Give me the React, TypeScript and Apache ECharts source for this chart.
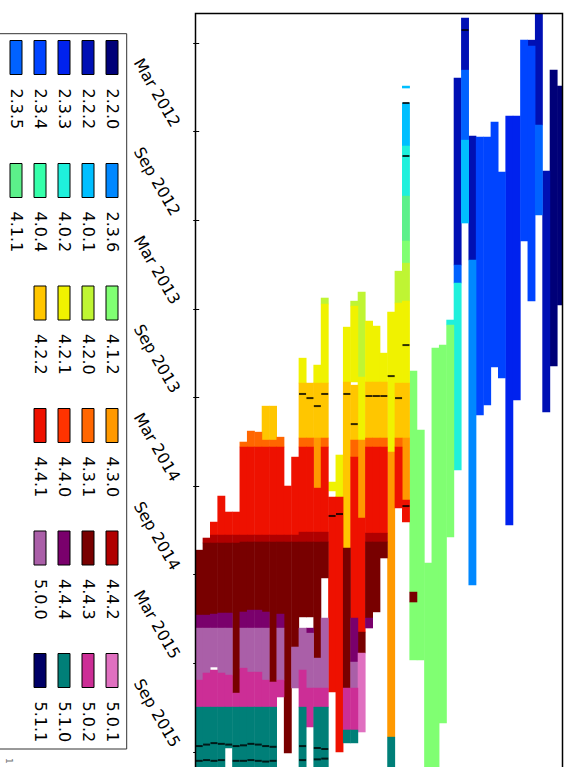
import React, { useEffect, useRef } from "react";
import * as echarts from "echarts";

// ---------- data ----------
const VERSIONS = [
  "2.2.0", "2.2.2", "2.3.3", "2.3.4", "2.3.5", "2.3.6", "4.0.1", "4.0.2", "4.0.4",
  "4.1.1", "4.1.2", "4.2.0", "4.2.1", "4.2.2", "4.3.0", "4.3.1", "4.4.0", "4.4.1",
  "4.4.2", "4.4.3", "4.4.4", "5.0.0", "5.0.1", "5.0.2", "5.1.0", "5.1.1",
];
const COLORS = [
  "#000078", "#0010b4", "#0022ee", "#0044ff", "#0062ff", "#0088ff", "#00bfff", "#1ff0dc", "#36ffaa",
  "#5cf08a", "#80ff72", "#bff533", "#f0f200", "#ffc600", "#ff9900", "#ff6600", "#ff3300", "#ee1100",
  "#b00000", "#780000", "#7a006c", "#aa5fa8", "#e070c0", "#cc2e96", "#007f78", "#000066",
];
const LEGEND_COLUMNS = [
  ["2.2.0", "2.2.2", "2.3.3", "2.3.4", "2.3.5"],
  ["2.3.6", "4.0.1", "4.0.2", "4.0.4", "4.1.1"],
  ["4.1.2", "4.2.0", "4.2.1", "4.2.2"],
  ["4.3.0", "4.3.1", "4.4.0", "4.4.1"],
  ["4.4.2", "4.4.3", "4.4.4", "5.0.0"],
  ["5.0.1", "5.0.2", "5.1.0", "5.1.1"],
];
// time unit: months since Jan 2011 (8 = Sep 2011)
const MONTHS = ["Jan", "Feb", "Mar", "Apr", "May", "Jun", "Jul", "Aug", "Sep", "Oct", "Nov", "Dec"];
const TICK_VALUES = [8, 14, 20, 26, 32, 38, 44, 50, 56];
const LABEL_VALUES = [14, 20, 26, 32, 38, 44, 50, 56];
const T_MIN = 6;
const T_MAX = 58.5;
const END = 58.5;
const DEVICE_MIN = -0.5;
const DEVICE_MAX = 49.2;

// per device (index 0..49): [start, end, version]
const SEGMENTS: [number, number, string][][] = [
  [[42.33, 46.73, "4.4.3"], [46.73, 47.61, "4.4.4"], [47.61, 51.13, "5.0.0"], [51.13, 52.96, "5.0.2"], [52.96, END, "5.1.0"]],
  [[41.51, 41.85, "4.4.2"], [41.85, 46.73, "4.4.3"], [46.73, 47.61, "4.4.4"], [47.61, 50.65, "5.0.0"], [50.65, 52.96, "5.0.2"], [52.96, END, "5.1.0"]],
  [[40.43, 41.31, "4.4.1"], [41.31, 41.85, "4.4.2"], [41.85, 46.66, "4.4.3"], [46.66, 47.61, "4.4.4"], [47.61, 50.25, "5.0.0"], [50.45, 52.96, "5.0.2"], [52.96, END, "5.1.0"]],
  [[38.67, 41.31, "4.4.1"], [41.31, 41.85, "4.4.2"], [41.85, 46.59, "4.4.3"], [46.59, 47.61, "4.4.4"], [47.61, 50.65, "5.0.0"], [50.65, 52.96, "5.0.2"], [52.96, END, "5.1.0"]],
  [[39.75, 41.31, "4.4.1"], [41.31, 41.85, "4.4.2"], [41.85, 46.59, "4.4.3"], [46.59, 47.61, "4.4.4"], [47.61, 50.79, "5.0.0"], [50.79, 52.96, "5.0.2"], [52.96, 55.73, "5.1.0"]],
  [[39.75, 41.31, "4.4.1"], [41.31, 41.85, "4.4.2"], [41.85, 52.01, "4.4.3"], [52.01, 52.96, "5.0.2"], [52.96, END, "5.1.0"]],
  [[35.01, 35.35, "4.3.1"], [35.35, 41.31, "4.4.1"], [41.31, 41.78, "4.4.2"], [41.78, 46.52, "4.4.3"], [46.52, 47.61, "4.4.4"], [47.61, 50.32, "5.0.0"], [50.32, 52.96, "5.0.2"], [52.96, END, "5.1.0"]],
  [[34.27, 35.35, "4.3.1"], [35.35, 41.31, "4.4.1"], [41.31, 41.78, "4.4.2"], [41.78, 46.39, "4.4.3"], [46.39, 47.61, "4.4.4"], [47.61, 50.59, "5.0.0"], [50.59, 52.96, "5.0.2"], [52.96, END, "5.1.0"]],
  [[34.34, 35.35, "4.3.1"], [35.35, 41.31, "4.4.1"], [41.31, 41.78, "4.4.2"], [41.78, 46.39, "4.4.3"], [46.39, 47.61, "4.4.4"], [47.61, 50.59, "5.0.0"], [50.59, 52.96, "5.0.2"], [52.96, END, "5.1.0"]],
  [[32.58, 34.88, "4.2.2"], [34.88, 35.35, "4.3.1"], [35.35, 41.31, "4.4.1"], [41.31, 41.78, "4.4.2"], [41.78, 46.52, "4.4.3"], [46.52, 47.61, "4.4.4"], [47.61, 51.13, "5.0.0"], [51.13, 52.96, "5.0.2"], [52.96, END, "5.1.0"]],
  [[32.58, 34.88, "4.2.2"], [34.88, 35.35, "4.3.1"], [35.35, 41.31, "4.4.1"], [41.31, 41.78, "4.4.2"], [41.78, 51.26, "4.4.3"], [51.26, 52.96, "5.0.2"], [52.96, END, "5.1.0"]],
  [[34.68, 35.35, "4.3.1"], [35.35, 41.31, "4.4.1"], [41.31, 41.78, "4.4.2"], [41.78, 46.66, "4.4.3"], [46.66, 47.61, "4.4.4"], [47.61, 51.13, "5.0.0"], [51.13, 52.28, "5.0.2"]],
  [[37.99, 41.31, "4.4.1"], [41.31, 41.78, "4.4.2"], [41.78, 56.07, "4.4.3"]],
  [[36.03, 41.31, "4.4.1"], [41.31, 41.78, "4.4.2"], [41.78, 48.89, "4.4.3"], [48.89, 51.67, "5.0.0"]],
  [[29.33, 31.02, "4.2.1"], [31.02, 34.74, "4.2.2"], [34.74, 35.35, "4.3.1"], [35.35, 41.11, "4.4.1"], [41.11, 41.78, "4.4.2"], [41.78, 46.86, "4.4.3"], [47.61, 50.45, "5.0.0"], [50.45, 52.96, "5.0.2"], [52.96, END, "5.1.0"]],
  [[31.02, 34.74, "4.2.2"], [34.74, 35.35, "4.3.1"], [35.35, 41.11, "4.4.1"], [41.11, 41.78, "4.4.2"], [41.78, 46.86, "4.4.3"], [47.61, 47.95, "4.4.4"], [47.95, 51.67, "5.0.0"], [51.67, 54.31, "5.0.2"]],
  [[29.8, 31.02, "4.2.1"], [31.02, 34.74, "4.2.2"], [34.74, 38.13, "4.3.0"], [38.13, 41.11, "4.4.1"], [41.11, 41.78, "4.4.2"], [41.78, 49.64, "4.4.3"], [49.64, 51.67, "5.0.0"], [51.67, 52.96, "5.0.2"], [52.96, END, "5.1.0"]],
  [[25.26, 25.67, "4.2.0"], [25.67, 31.02, "4.2.1"], [31.02, 34.74, "4.2.2"], [34.74, 35.35, "4.3.1"], [35.35, 41.11, "4.4.1"], [41.11, 41.78, "4.4.2"], [41.78, 44.22, "4.4.3"], [46.93, 51.67, "5.0.0"], [51.67, 52.96, "5.0.2"], [52.96, END, "5.1.0"]],
  [[37.72, 38.33, "4.2.1"], [38.74, 51.94, "4.4.1"]],
  [[35.89, 38.74, "4.2.1"], [38.74, 56.0, "4.4.1"]],
  [[27.23, 30.95, "4.2.1"], [30.95, 42.19, "4.2.2"], [42.19, 51.67, "4.4.3"], [51.67, 54.51, "5.0.2"], [54.51, 55.39, "5.1.0"]],
  [[25.47, 25.81, "4.2.0"], [25.81, 30.95, "4.2.1"], [31.16, 34.88, "4.2.2"], [34.88, 36.03, "4.3.1"], [36.03, 46.93, "4.4.1"], [46.93, 49.91, "4.4.4"], [49.91, 51.67, "5.0.0"], [51.67, 54.51, "5.0.2"], [54.51, 55.39, "5.1.0"]],
  [[24.86, 30.61, "4.2.0"], [30.61, 34.88, "4.2.1"], [34.88, 40.16, "4.3.0"], [40.16, 47.88, "4.4.1"], [47.88, 49.3, "4.4.3"], [49.3, 54.65, "5.0.1"]],
  [[26.82, 30.95, "4.2.1"], [30.95, 34.74, "4.2.2"], [34.74, 35.35, "4.3.1"], [35.35, 41.18, "4.4.1"], [41.18, 41.78, "4.4.2"], [41.78, 46.93, "4.4.3"], [46.93, 47.61, "4.4.4"]],
  [[27.16, 30.95, "4.2.1"], [30.95, 34.74, "4.2.2"], [34.74, 35.35, "4.3.1"], [35.35, 41.18, "4.4.1"], [41.18, 41.78, "4.4.2"], [41.78, 46.52, "4.4.3"]],
  [[28.99, 30.95, "4.2.1"], [30.95, 34.74, "4.2.2"], [34.74, 35.35, "4.3.1"], [35.35, 41.18, "4.4.1"], [41.18, 41.78, "4.4.2"], [41.78, 42.87, "4.4.3"]],
  [[26.21, 35.69, "4.2.1"], [35.69, 54.99, "4.3.0"], [54.99, END, "5.1.0"]],
  [[23.44, 25.6, "4.2.0"], [25.6, 31.02, "4.2.1"], [31.02, 34.74, "4.2.2"], [34.74, 35.35, "4.3.1"], [35.35, 39.48, "4.4.1"]],
  [[10.91, 11.05, "4.0.1"], [12.06, 14.97, "4.0.1"], [14.97, 18.36, "4.0.2"], [18.36, 21.41, "4.1.1"], [21.41, 22.9, "4.1.2"], [22.9, 25.47, "4.2.0"], [25.47, 31.02, "4.2.1"], [31.02, 34.74, "4.2.2"], [34.74, 38.94, "4.3.0"], [38.94, 40.43, "4.4.1"]],
  [[30.21, 45.17, "4.1.2"], [45.17, 45.85, "4.4.3"], [45.85, 49.77, "4.1.2"]],
  [[34.2, 49.77, "4.1.2"]],
  [[43.21, END, "4.1.2"]],
  [[28.65, END, "4.1.2"]],
  [[28.45, 54.04, "4.1.2"]],
  [[26.75, 27.09, "4.0.2"], [27.09, 41.45, "4.1.2"]],
  [[10.37, 23.03, "2.2.2"], [23.03, 24.25, "2.3.5"], [24.25, 36.91, "4.0.2"]],
  [[6.31, 9.83, "2.2.2"], [9.83, 14.57, "2.3.5"], [14.57, 20.19, "4.0.1"]],
  [[14.3, 22.69, "2.2.2"], [22.69, 44.7, "2.3.6"]],
  [[14.36, 33.19, "2.3.4"]],
  [[14.36, 32.51, "2.3.4"]],
  [[13.35, 29.94, "2.3.4"]],
  [[16.73, 30.68, "2.3.4"]],
  [[12.94, 40.63, "2.3.3"]],
  [[12.94, 32.17, "2.3.3"]],
  [[7.8, 21.41, "2.3.4"]],
  [[7.8, 8.2, "2.2.2"], [8.2, 25.47, "2.3.4"]],
  [[6.0, 13.55, "2.2.2"], [13.55, 19.65, "2.3.5"]],
  [[16.67, 32.98, "2.2.2"]],
  [[9.83, 29.87, "2.2.0"]],
  [[10.91, 25.74, "2.2.0"]],
];

// short black marks: [device, time]
const MARKERS: [number, number][] = [
  [36, 7.12], [28, 12.06], [28, 15.65], [28, 28.45], [28, 39.35], [26, 30.55],
  [14, 31.76], [15, 32.04], [16, 32.58], [17, 31.76], [20, 31.76], [21, 33.8],
  [23, 31.9], [24, 31.9], [25, 31.9], [27, 32.04], [18, 40.02], [19, 39.89],
  [0, 55.6], [1, 55.5], [2, 55.4], [3, 55.45], [4, 55.5], [5, 55.6], [6, 55.55],
  [7, 55.45], [8, 55.5], [9, 55.6], [10, 55.65],
  [0, 56.6], [1, 56.55], [2, 56.6], [3, 56.55], [5, 56.6], [6, 56.6], [7, 56.55],
  [8, 56.6], [9, 56.65], [10, 56.6],
  [14, 55.6], [14, 56.55], [16, 55.73], [16, 56.5], [17, 55.8], [17, 56.45],
];

// ---------- layout (original landscape frame, rotated 90deg on screen) ----------
const CHART_W = 800;
const CHART_H = 571;
const GRID = { left: 13.5, top: 8.5, right: 11.1, bottom: 195.5 };
const FONT = "DejaVu Sans";
const LEGEND_LEFTS = [40, 163, 285.5, 408, 530.5, 653];

function buildOption() {
  const series: any[] = VERSIONS.map((v, vi) => {
    const data: number[][] = [];
    SEGMENTS.forEach((segs, dev) => {
      segs.forEach(([s, e, ver]) => {
        if (ver === v) data.push([s, e, dev]);
      });
    });
    return {
      type: "custom",
      name: v,
      coordinateSystem: "cartesian2d",
      itemStyle: { color: COLORS[vi] },
      encode: { x: [0, 1], y: 2 },
      data,
      silent: true,
      renderItem: (params: any, api: any) => {
        const s = api.coord([api.value(0), api.value(2)]);
        const e = api.coord([api.value(1), api.value(2)]);
        const h = api.size([0, 1])[1];
        const cs = params.coordSys;
        const shape = echarts.graphic.clipRectByRect(
          { x: s[0] - 0.25, y: s[1] - h / 2 - 0.25, width: e[0] - s[0] + 0.5, height: h + 0.5 },
          { x: cs.x, y: cs.y, width: cs.width, height: cs.height }
        );
        if (!shape) return null;
        return { type: "rect", shape, style: { fill: COLORS[vi] } };
      },
    };
  });
  series.push({
    type: "scatter",
    name: "marks",
    data: MARKERS.map(([d, t]) => [t, d]),
    symbol: "rect",
    symbolSize: [2, 7],
    itemStyle: { color: "#000" },
    z: 5,
    silent: true,
  });

  const frameW = CHART_W - GRID.left - GRID.right;
  const frameH = CHART_H - GRID.top - GRID.bottom;

  return {
    animation: false,
    backgroundColor: "#fff",
    grid: { ...GRID, outerBoundsMode: "none", containLabel: false },
    xAxis: {
      type: "value",
      min: T_MIN,
      max: T_MAX,
      axisLine: { show: false },
      splitLine: { show: false },
      axisTick: {
        show: true,
        customValues: TICK_VALUES,
        length: 6,
        lineStyle: { color: "#000", width: 1 },
      },
      axisLabel: {
        customValues: LABEL_VALUES,
        rotate: 30,
        margin: 16,
        padding: [0, 7, 0, 0],
        fontSize: 16,
        fontFamily: FONT,
        color: "#000",
        formatter: (v: number) => {
          const m = Math.round(v);
          return MONTHS[m % 12] + " " + (2011 + Math.floor(m / 12));
        },
      },
    },
    yAxis: { type: "value", min: DEVICE_MIN, max: DEVICE_MAX, show: false },
    legend: LEGEND_COLUMNS.map((names, i) => ({
      data: names,
      orient: "vertical",
      left: LEGEND_LEFTS[i],
      top: 451,
      height: 300,
      padding: 0,
      itemWidth: 34,
      itemHeight: 12,
      itemGap: 8,
      icon: "rect",
      selectedMode: false,
      itemStyle: { borderColor: "#000", borderWidth: 1 },
      textStyle: { fontSize: 16, fontFamily: FONT, color: "#000", padding: [0, 0, 0, 9] },
    })),
    graphic: [
      {
        type: "rect",
        z: 100,
        silent: true,
        shape: { x: GRID.left, y: GRID.top, width: frameW, height: frameH },
        style: { fill: "none", stroke: "#000", lineWidth: 1.5 },
      },
      {
        type: "rect",
        z: 100,
        silent: true,
        shape: { x: 33.7, y: 444.3, width: 715.3, height: 200 },
        style: { fill: "none", stroke: "#333", lineWidth: 1 },
      },
      {
        type: "text",
        z: 100,
        silent: true,
        x: 758,
        y: 558,
        style: { text: "1", fontSize: 9, fontFamily: FONT, fill: "#777" },
      },
    ],
    series,
  };
}

export default function App() {
  const ref = useRef<HTMLDivElement>(null);
  useEffect(() => {
    if (!ref.current) return;
    const chart = echarts.init(ref.current, null, { renderer: "svg" });
    chart.setOption(buildOption() as any);
    return () => chart.dispose();
  }, []);
  return (
    <div
      style={{
        position: "fixed",
        left: 0,
        top: 0,
        width: 571,
        height: 767,
        overflow: "hidden",
        background: "#fff",
      }}
    >
      <div
        ref={ref}
        style={{
          position: "absolute",
          left: 0,
          top: 0,
          width: CHART_W,
          height: CHART_H,
          transformOrigin: "0 0",
          transform: "translate(571px, 0px) rotate(90deg)",
        }}
      />
    </div>
  );
}
